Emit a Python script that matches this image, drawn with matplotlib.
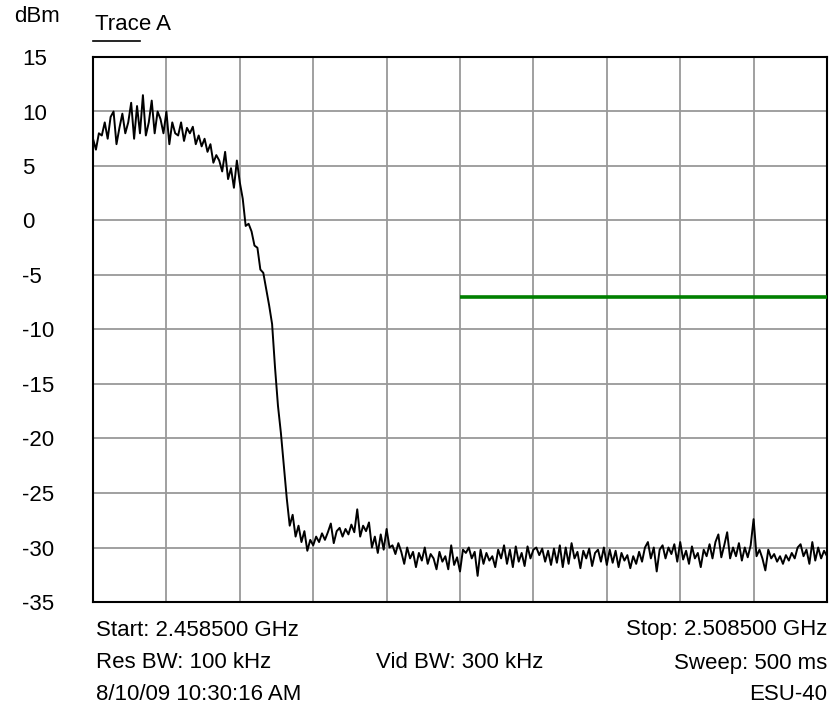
import matplotlib
matplotlib.use("Agg")
import matplotlib.pyplot as plt
import numpy as np

plt.rcParams['font.family'] = ['Liberation Sans', 'DejaVu Sans']

# sweep settings (GHz)
start_ghz = 2.4585
stop_ghz = 2.5085

# trace A (dBm), 251 sweep points
trace_a = [
    7.5, 6.5, 8.0, 7.8, 9.0, 7.5, 9.5, 10.0, 7.0, 8.5,
    9.8, 8.0, 9.0, 10.8, 7.5, 10.5, 8.0, 11.5, 7.8, 9.0,
    11.0, 8.0, 10.0, 9.3, 8.0, 10.0, 7.0, 9.0, 8.0, 7.8,
    9.0, 7.3, 8.5, 8.0, 8.6, 7.0, 7.8, 6.8, 7.5, 6.3,
    7.0, 5.3, 6.0, 5.5, 4.5, 6.3, 3.8, 4.8, 3.0, 5.5,
    3.5, 2.0, -0.5, -0.3, -1.0, -2.3, -2.5, -4.5, -4.8, -6.3,
    -7.8, -9.5, -13.5, -17.0, -19.5, -22.5, -25.5, -28.0, -27.0, -29.0,
    -28.0, -29.5, -28.5, -30.3, -29.3, -29.8, -29.0, -29.5, -28.7, -29.3,
    -28.6, -27.8, -29.6, -28.5, -28.2, -29.0, -28.3, -28.8, -27.9, -28.6,
    -26.5, -29.0, -28.0, -28.5, -27.7, -30.0, -29.0, -30.5, -28.8, -30.2,
    -28.3, -30.0, -29.8, -30.6, -29.6, -30.4, -31.5, -30.0, -31.0, -30.4,
    -31.8, -30.5, -31.2, -30.0, -31.5, -30.6, -31.0, -32.0, -30.4, -31.3,
    -30.8, -32.0, -29.8, -31.6, -30.9, -32.2, -30.2, -30.5, -30.0, -31.0,
    -30.4, -32.6, -30.2, -31.5, -30.5, -31.2, -30.8, -31.8, -30.2, -31.0,
    -29.8, -31.5, -30.2, -31.8, -29.9, -31.3, -30.5, -31.7, -29.9, -31.0,
    -30.2, -30.0, -30.7, -30.1, -31.3, -30.3, -31.6, -30.1, -31.4, -29.8,
    -31.8, -30.0, -31.5, -29.6, -31.0, -30.4, -31.9, -30.3, -31.0, -30.1,
    -31.7, -30.5, -30.2, -31.3, -30.0, -31.6, -30.2, -31.4, -30.3, -31.8,
    -30.5, -31.2, -30.7, -31.9, -30.8, -31.5, -30.4, -31.3, -30.0, -29.5,
    -31.0, -30.0, -32.2, -30.2, -29.8, -31.0, -30.0, -30.6, -29.7, -31.3,
    -29.5, -31.1, -30.3, -31.5, -29.9, -31.0, -30.5, -31.8, -30.2, -30.8,
    -29.7, -31.0, -29.5, -28.8, -30.9, -29.8, -28.6, -31.0, -30.0, -30.8,
    -29.6, -31.2, -30.0, -30.9, -29.8, -27.4, -30.8, -30.2, -31.0, -32.1,
    -30.2, -31.0, -30.6, -31.3, -30.8, -31.5, -30.7, -31.2, -30.5, -31.0,
    -30.0, -29.7, -30.8, -30.2, -31.5, -29.5, -31.2, -30.0, -31.0, -30.3,
    -30.8,
]

# limit line (green), from centre frequency to stop
limit_start_ghz = 2.4835
limit_dbm = -7.0

y_ticks = [15, 10, 5, 0, -5, -10, -15, -20, -25, -30, -35]

freqs = np.linspace(start_ghz, stop_ghz, len(trace_a))

fig = plt.figure(figsize=(8.35, 7.13), dpi=100)
ax = fig.add_axes([93 / 835, 111 / 713, 734 / 835, 545 / 713])

ax.plot(freqs, trace_a, color='black', linewidth=1.4, zorder=3)
ax.plot([limit_start_ghz, stop_ghz], [limit_dbm, limit_dbm],
        color='#008000', linewidth=2.6, zorder=4, solid_capstyle='butt')

fs = 16

ax.set_xlim(start_ghz, stop_ghz)
ax.set_ylim(-35, 15)
ax.set_xticks(np.linspace(start_ghz, stop_ghz, 11))
ax.set_yticks(y_ticks)
ax.set_xticklabels([])
ax.set_yticklabels([str(t) for t in y_ticks], ha='left', fontsize=fs)
ax.tick_params(axis='both', length=0)
ax.tick_params(axis='y', pad=51)
ax.grid(True, color='#999999', linewidth=1.3)
for s in ax.spines.values():
    s.set_linewidth(1.5)
    s.set_color('black')

fig.text(37 / 835, 1 - 16 / 713, 'dBm', ha='center', va='center', fontsize=fs)
fig.text(95 / 835, 1 - 25 / 713, 'Trace A', ha='left', va='center', fontsize=fs)
fig.add_artist(plt.Line2D([93 / 835, 140 / 835], [1 - 41 / 713, 1 - 41 / 713],
                          color='black', linewidth=1.2))

rows = [1 - 630 / 713, 1 - 663 / 713, 1 - 695 / 713]
left_x = 96 / 835
right_x = 827 / 835
mid_x = 460 / 835
fig.text(left_x, rows[0], 'Start: 2.458500 GHz', ha='left', va='center', fontsize=fs)
fig.text(right_x, rows[0], 'Stop: 2.508500 GHz', ha='right', va='center', fontsize=fs)
fig.text(left_x, rows[1], 'Res BW: 100 kHz', ha='left', va='center', fontsize=fs)
fig.text(mid_x, rows[1], 'Vid BW: 300 kHz', ha='center', va='center', fontsize=fs)
fig.text(right_x, rows[1], 'Sweep: 500 ms', ha='right', va='center', fontsize=fs)
fig.text(left_x, rows[2], '8/10/09 10:30:16 AM', ha='left', va='center', fontsize=fs)
fig.text(right_x, rows[2], 'ESU-40', ha='right', va='center', fontsize=fs)

fig.savefig('out.png', dpi=100)
